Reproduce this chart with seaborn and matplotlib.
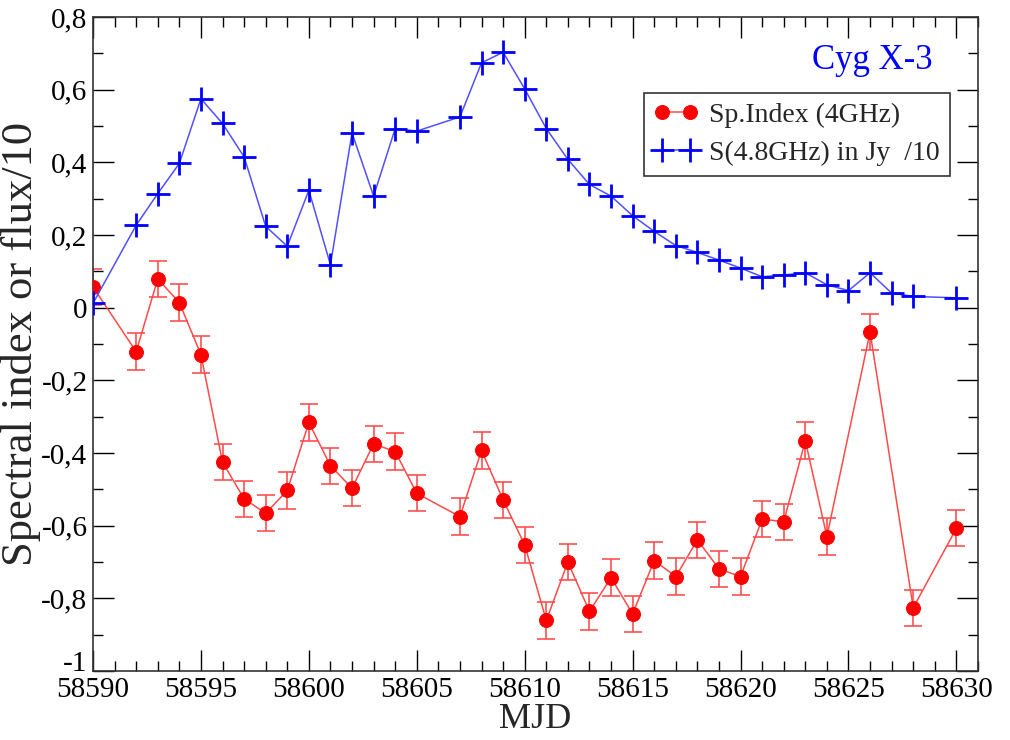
import numpy as np
import pandas as pd
import matplotlib
matplotlib.use("Agg")
import matplotlib.pyplot as plt
import matplotlib.transforms as mtransforms
from matplotlib.ticker import MultipleLocator, FuncFormatter
import seaborn as sns

# ---- data ----
mjd = [58590, 58592, 58593, 58594, 58595, 58596, 58597, 58598, 58599, 58600,
       58601, 58602, 58603, 58604, 58605, 58607, 58608, 58609, 58610, 58611,
       58612, 58613, 58614, 58615, 58616, 58617, 58618, 58619, 58620, 58621,
       58622, 58623, 58624, 58625, 58626, 58627, 58628, 58630]

flux_div10 = [0.012, 0.227, 0.314, 0.397, 0.575, 0.507, 0.415, 0.224, 0.169, 0.323,
              0.118, 0.481, 0.307, 0.493, 0.486, 0.525, 0.674, 0.703, 0.602, 0.493,
              0.408, 0.339, 0.307, 0.253, 0.210, 0.171, 0.152, 0.131, 0.109, 0.085,
              0.090, 0.096, 0.063, 0.047, 0.096, 0.040, 0.031, 0.027]

mjd_si = [58590, 58592, 58593, 58594, 58595, 58596, 58597, 58598, 58599, 58600,
          58601, 58602, 58603, 58604, 58605, 58607, 58608, 58609, 58610, 58611,
          58612, 58613, 58614, 58615, 58616, 58617, 58618, 58619, 58620, 58621,
          58622, 58623, 58624, 58626, 58628, 58630]

sp_index = [0.057, -0.121, 0.079, 0.014, -0.129, -0.425, -0.526, -0.566, -0.503, -0.316,
            -0.435, -0.497, -0.375, -0.396, -0.511, -0.575, -0.393, -0.529, -0.653, -0.861,
            -0.700, -0.836, -0.743, -0.843, -0.696, -0.740, -0.639, -0.719, -0.740, -0.582,
            -0.589, -0.366, -0.630, -0.067, -0.826, -0.607]

sp_err = [0.05] * len(sp_index)

label_si = "Sp.Index (4GHz)"
label_flux = "S(4.8GHz) in Jy  /10"
source_name = "Cyg X-3"

df_si = pd.DataFrame({"MJD": mjd_si, "val": sp_index, "err": sp_err})
df_fl = pd.DataFrame({"MJD": mjd, "val": flux_div10})

# ---- style ----
sns.set_theme(style="ticks")
plt.rcParams["font.family"] = ["Liberation Serif", "DejaVu Serif"]
plt.rcParams["axes.linewidth"] = 1.2
plt.rcParams["axes.edgecolor"] = "#333333"

fig = plt.figure(figsize=(10.1, 7.4), dpi=100)
ax = fig.add_axes([93 / 1010, 1 - 671 / 740, (978 - 93) / 1010, (671 - 17) / 740])

# red spectral index with error bars
ax.errorbar(df_si["MJD"], df_si["val"], yerr=df_si["err"], fmt="none",
            ecolor="#ff5050", elinewidth=1.2, capsize=6.5, capthick=1.2, zorder=2)
sns.lineplot(data=df_si, x="MJD", y="val", ax=ax, color="#ff4a4a", linewidth=1.1,
             marker="o", markersize=10, markerfacecolor="#ff0000",
             markeredgecolor="#ff0000", label=label_si, zorder=3)

# blue flux
sns.lineplot(data=df_fl, x="MJD", y="val", ax=ax, color="#5050ff", linewidth=1.1,
             marker="+", markersize=17, markeredgewidth=2.0,
             markeredgecolor="#0000ff", label=label_flux, zorder=4)

ax.set_xlim(58590, 58631)
ax.set_ylim(-1, 0.8)
ax.xaxis.set_major_locator(MultipleLocator(5))
ax.xaxis.set_minor_locator(MultipleLocator(1))
ax.yaxis.set_major_locator(MultipleLocator(0.2))
ax.yaxis.set_minor_locator(MultipleLocator(0.1))


def yfmt(v, pos):
    if abs(v) < 1e-9:
        return "0"
    if abs(v - round(v)) < 1e-9:
        return "%d" % round(v)
    return ("%.1f" % v).replace(".", ",")


ax.yaxis.set_major_formatter(FuncFormatter(yfmt))
ax.xaxis.set_major_formatter(FuncFormatter(lambda v, p: "%d" % round(v)))

ax.tick_params(which="both", direction="in", top=True, right=True,
               labelsize=21, colors="black", width=1.0, pad=4)
ax.tick_params(which="major", length=15)
ax.tick_params(which="minor", length=7.5)
for s in ax.spines.values():
    s.set_color("#333333")

ax.set_xlabel("MJD", fontsize=26, labelpad=0)
ax.set_ylabel("Spectral index or flux/10", fontsize=32, labelpad=0)

ax.text(0.881, 0.933, source_name, transform=ax.transAxes, color="#0000ff",
        fontsize=25, ha="center", va="center")

leg = ax.legend(loc="upper right", bbox_to_anchor=(0.968, 0.884), borderaxespad=0,
                fontsize=20, numpoints=2, handlelength=1.6, handletextpad=0.4,
                fancybox=False, frameon=True, framealpha=1, edgecolor="#333333",
                borderpad=0.35, labelspacing=0.45)
leg.get_frame().set_linewidth(1.2)

# nudge the lowest y tick label ("-1") up so it clears the first x label
fig.canvas.draw()
shift = mtransforms.ScaledTranslation(0, 7 / 72, fig.dpi_scale_trans)
for lab in ax.get_yticklabels():
    if lab.get_text() == "-1":
        lab.set_transform(lab.get_transform() + shift)

fig.savefig("out.png", dpi=100)
